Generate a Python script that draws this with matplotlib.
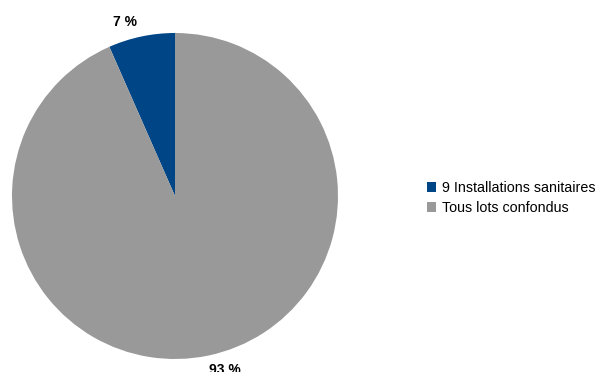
import numpy as np
import matplotlib.pyplot as plt

plt.rcParams['font.family'] = ['Liberation Sans', 'DejaVu Sans']

labels = ['9 Installations sanitaires', 'Tous lots confondus']
values = [6.6, 93.4]
colors = ['#004586', '#999999']

fig = plt.figure(figsize=(5.98, 3.72), dpi=100)
ax = fig.add_axes([12 / 598, 13 / 372, 326 / 598, 326 / 372])

wedges, texts = ax.pie(values, colors=colors, startangle=90, counterclock=True)
ax.set_xlim(-1, 1)
ax.set_ylim(-1, 1)
ax.set_aspect('equal')

# percent labels just outside the wedges, nudged a bit like the original
for w, v in zip(wedges, values):
    ang = np.deg2rad((w.theta1 + w.theta2) / 2 + 4)
    r = 1.11
    ax.text(r * np.cos(ang), r * np.sin(ang), '%d %%' % round(v),
            ha='center', va='center', fontsize=10, fontweight='bold', clip_on=False)

fig.legend(wedges, labels, loc='center left', bbox_to_anchor=(421 / 598, 1 - 198 / 372),
           frameon=False, fontsize=10.3, handlelength=0.65, handleheight=0.65,
           handletextpad=0.4, labelspacing=0.45, borderaxespad=0)

fig.savefig('out.png', dpi=100)
